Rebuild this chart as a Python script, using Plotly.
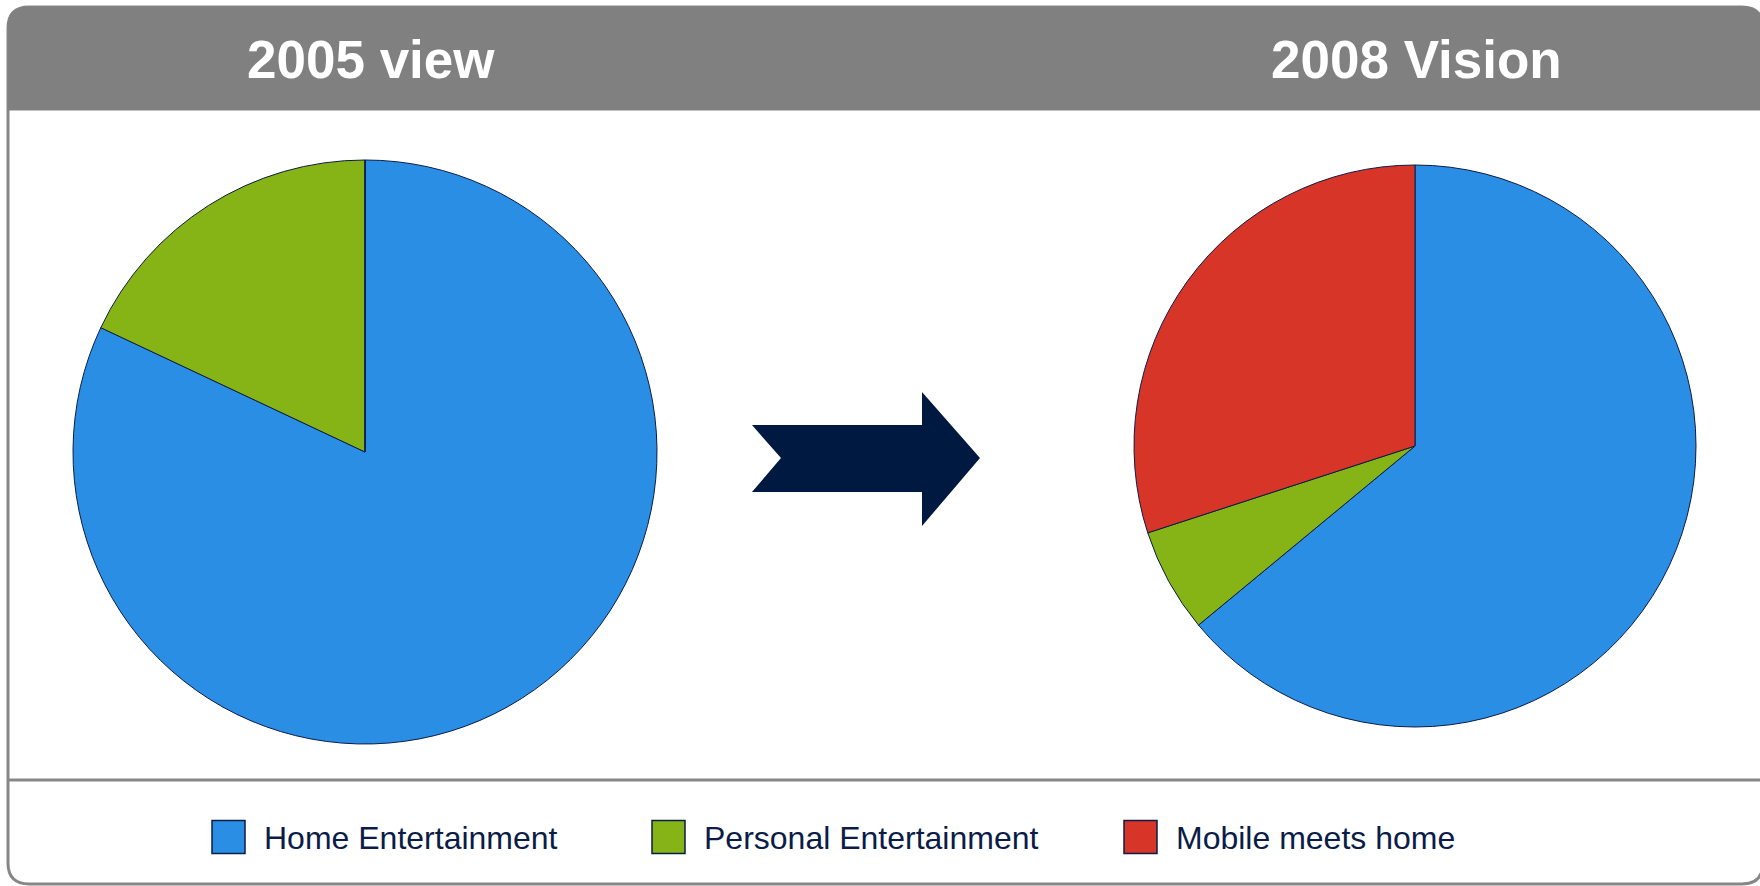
import plotly.graph_objects as go

# Segment shares (percent) for the two pies
categories = ["Home Entertainment", "Personal Entertainment", "Mobile meets home"]
view_2005 = [82, 18, 0]
vision_2008 = [64, 6, 30]
panel_titles = ["2005 view", "2008 Vision"]
colors = ["#2A8FE4", "#86B315", "#D63528"]

W, H = 1760, 886
NAVY = "#0B1C48"
FRAME = "#878787"
HEADER = "#808080"


def px(x):
    return x / W


def py(y):
    return 1 - y / H


def pt(x, y):
    return f"{px(x):.5f},{py(y):.5f}"


fig = go.Figure()

pie_domains = [
    dict(x=[px(73), px(657)], y=[py(744), py(160)]),
    dict(x=[px(1134), px(1696)], y=[py(727), py(165)]),
]
for values, dom in zip([view_2005, vision_2008], pie_domains):
    fig.add_trace(go.Pie(
        labels=categories,
        values=values,
        marker=dict(colors=colors, line=dict(color=NAVY, width=1)),
        sort=False,
        direction="clockwise",
        rotation=0,
        textinfo="none",
        hoverinfo="label+percent",
        showlegend=False,
        domain=dom,
    ))

shapes = []
# Outer frame with rounded corners (right side runs off the page edge)
L, T, R, B, r = 8, 7, 1763, 884, 21
frame_path = (
    f"M{pt(L + r, T)} L{pt(R - r, T)} Q{pt(R, T)} {pt(R, T + r)} "
    f"L{pt(R, B - r)} Q{pt(R, B)} {pt(R - r, B)} "
    f"L{pt(L + r, B)} Q{pt(L, B)} {pt(L, B - r)} "
    f"L{pt(L, T + r)} Q{pt(L, T)} {pt(L + r, T)} Z"
)
# Grey header band with rounded top corners
hb = 110
header_path = (
    f"M{pt(L, hb)} L{pt(L, T + r)} Q{pt(L, T)} {pt(L + r, T)} "
    f"L{pt(R - r, T)} Q{pt(R, T)} {pt(R, T + r)} L{pt(R, hb)} Z"
)
shapes.append(dict(type="path", path=frame_path, xref="paper", yref="paper",
                   line=dict(color=FRAME, width=3), fillcolor="white", layer="below"))
shapes.append(dict(type="path", path=header_path, xref="paper", yref="paper",
                   line=dict(color=HEADER, width=1), fillcolor=HEADER, layer="below"))
# Separator above the legend strip
shapes.append(dict(type="line", xref="paper", yref="paper",
                   x0=px(L), x1=px(R), y0=py(780), y1=py(780),
                   line=dict(color=FRAME, width=3)))

# Transition arrow between the two pies
arrow = [(752, 425), (922, 425), (922, 392), (980, 458), (922, 526),
         (922, 492), (752, 492), (781, 458)]
arrow_path = "M" + " L".join(pt(x, y) for x, y in arrow) + " Z"
shapes.append(dict(type="path", path=arrow_path, xref="paper", yref="paper",
                   line=dict(color="#001940", width=0), fillcolor="#001940"))

annotations = []
for title, cx in zip(panel_titles, [371, 1416]):
    annotations.append(dict(
        text=f"<b>{title}</b>", x=px(cx), y=py(59), xref="paper", yref="paper",
        xanchor="center", yanchor="middle", showarrow=False,
        font=dict(family="Liberation Sans, Arial", size=53, color="white"),
    ))

# Legend strip: swatch squares and labels
legend_x = [212, 652, 1124]
sq, ly = 33, 837
for name, col, lx in zip(categories, colors, legend_x):
    shapes.append(dict(type="rect", xref="paper", yref="paper",
                       x0=px(lx), x1=px(lx + sq), y0=py(ly + sq / 2), y1=py(ly - sq / 2),
                       fillcolor=col, line=dict(color=NAVY, width=1.5)))
    annotations.append(dict(
        text=name, x=px(lx + sq + 17), y=py(ly + 1), xref="paper", yref="paper",
        xanchor="left", yanchor="middle", showarrow=False,
        font=dict(family="Liberation Sans, Arial", size=32, color=NAVY),
    ))

fig.update_layout(
    width=W, height=H,
    margin=dict(l=0, r=0, t=0, b=0),
    paper_bgcolor="white", plot_bgcolor="white",
    shapes=shapes, annotations=annotations,
    showlegend=False,
)

fig.write_html("out.html")
